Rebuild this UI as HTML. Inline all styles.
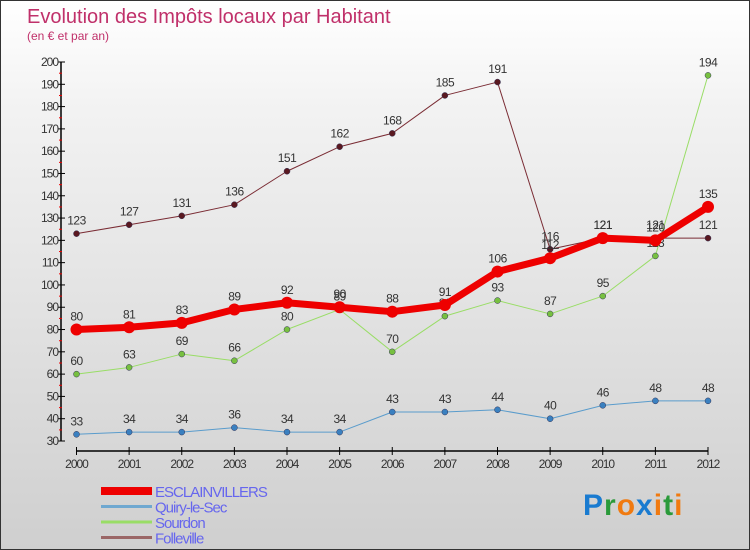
<!DOCTYPE html>
<html><head><meta charset="utf-8"><style>
body{margin:0}
#c{width:750px;height:550px;position:relative;box-sizing:border-box;border:1px solid #333;background:linear-gradient(#fff,#f2f2f2 20%,#cfcfcf);overflow:hidden;font-family:"Liberation Sans",sans-serif}
</style></head><body>
<div id="c">
<svg id="s" width="750" height="550" style="position:absolute;left:0;top:0">
<text x="26" y="22" font-size="20" fill="#c0306a">Evolution des Impôts locaux par Habitant</text>
<text x="26" y="39" font-size="12" fill="#c0306a">(en € et par an)</text>
<g id="axes"></g><g id="series"></g>
</svg>
<div style="position:absolute;left:582px;top:488px;font-size:30px;font-weight:bold;letter-spacing:1px"><span style="color:#1a7bd0">P</span><span style="color:#2a9a3a">r</span><span style="color:#f07a10">o</span><span style="color:#1a7bd0">x</span><span style="color:#f07a10">i</span><span style="color:#2a9a3a">t</span><span style="color:#f07a10">i</span></div>
</div>
<script>
const years=[2000,2001,2002,2003,2004,2005,2006,2007,2008,2009,2010,2011,2012];
const esclainvillers=[80,81,83,89,92,90,88,91,106,112,121,120,135];
const quiry=[33,34,34,36,34,34,43,43,44,40,46,48,48];
const sourdon=[60,63,69,66,80,89,70,86,93,87,95,113,194];
const folleville=[123,127,131,136,151,162,168,185,191,116,121,121,121];
const yTicks=[30,40,50,60,70,80,90,100,110,120,130,140,150,160,170,180,190,200];
const names=["ESCLAINVILLERS","Quiry-le-Sec","Sourdon","Folleville"];
const NS="http://www.w3.org/2000/svg";
const X=i=>75.5+i*(707-75.5)/12;
const Y=v=>440-(v-30)*(440-61)/170;
function mk(t,a,p){const e=document.createElementNS(NS,t);for(const k in a)e.setAttribute(k,a[k]);(p||document.getElementById('series')).appendChild(e);return e;}
const ax=document.getElementById('axes');
let e=mk('line',{x1:60,y1:61,x2:60,y2:440,stroke:'#000','stroke-width':1.5},ax);

e=mk('line',{x1:75.5,y1:450,x2:707,y2:450,stroke:'#000','stroke-width':1.5},ax);

yTicks.forEach(v=>{const y=Y(v);
 mk('line',{x1:57,y1:y,x2:64,y2:y,stroke:'#000'},ax);
 if(v<200)mk('line',{x1:58,y1:y-11.1,x2:61,y2:y-11.1,stroke:'#e00'},ax);
 const t=mk('text',{x:57,y:y+4,'text-anchor':'end','font-size':12,fill:'#333','letter-spacing':'-1'},ax);t.textContent=v;
 });
years.forEach((yr,i)=>{const x=X(i);
 mk('line',{x1:x,y1:446,x2:x,y2:454,stroke:'#000'},ax);
 const t=mk('text',{x:x,y:467,'text-anchor':'middle','font-size':12,fill:'#333','letter-spacing':'-1'},ax);t.textContent=yr;
 });
const defs=[[folleville,'#7a2c34','#5a1820',1,3,'folleville'],[sourdon,'#99dd66','#77c040',1,3,'sourdon'],[quiry,'#5a9ccc','#3a80c0',1,3,'quiry-le-sec'],[esclainvillers,'#ee0000','#ee0000',7,6,'esclainvillers']];
defs.forEach(([d,c,fc,w,r,n])=>{
 const pl=mk('polyline',{points:d.map((v,i)=>X(i)+','+Y(v)).join(' '),fill:'none',stroke:c,'stroke-width':w,'stroke-linejoin':'round'});
 
 d.forEach((v,i)=>{const p=mk('circle',{cx:X(i),cy:Y(v),r:r,fill:fc,stroke:w>1?'none':'#335','stroke-width':0.5});
  
  const t=mk('text',{x:X(i),y:Y(v)-9,'text-anchor':'middle','font-size':12,fill:'#333','letter-spacing':'-0.5'});t.textContent=v;
  });
});
const lc=['#ee0000','#6fa8d0','#99dd66','#9a6666'],lw=[8,3,3,3];
names.forEach((nm,i)=>{const y=490+i*15.5;
 const l=mk('line',{x1:100,y1:y,x2:151,y2:y,stroke:lc[i],'stroke-width':lw[i]});
 
 const t=mk('text',{x:154,y:y+6,'font-size':15,fill:'#6666ee','letter-spacing':'-1'});t.textContent=nm;
 });
</script>
</body></html>
